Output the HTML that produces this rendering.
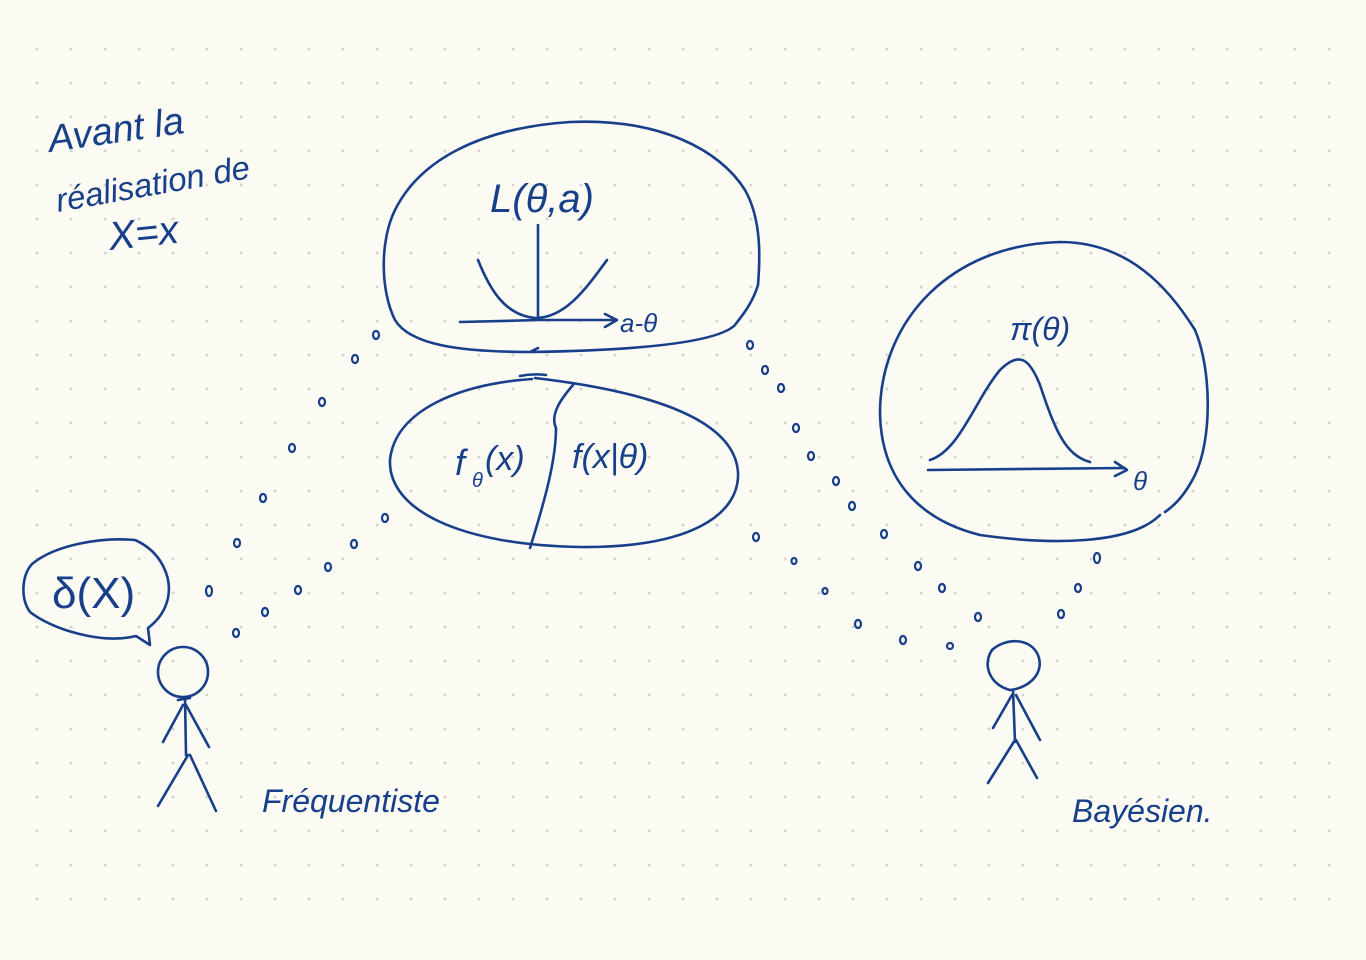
<!DOCTYPE html>
<html><head><meta charset="utf-8"><style>
html,body{margin:0;padding:0;background:#fbfaf3;}
svg{display:block}
text{font-family:"Liberation Sans",sans-serif;fill:#173f8a}
</style></head><body>
<svg width="1366" height="960" viewBox="0 0 1366 960" xmlns="http://www.w3.org/2000/svg">
<defs>
<pattern id="g" x="20" y="32" width="34" height="34" patternUnits="userSpaceOnUse">
<circle cx="17" cy="17" r="1.5" fill="#d3d3cf"/>
</pattern>
</defs>
<rect width="1366" height="960" fill="#fbfaf3"/>
<rect x="20" y="32" width="1326" height="884" fill="url(#g)"/>
<g fill="none" stroke="#173f8a" stroke-width="2.6" stroke-linecap="round" stroke-linejoin="round">
<path d="M532 352 C460 352 410 345 395 320 C380 290 380 240 395 210 C420 160 480 128 570 122 C660 118 720 150 745 190 C762 220 760 260 758 285 C752 305 740 318 735 325 C720 340 660 350 530 352 L538 348"/>
<path d="M460 322 L540 320 L615 320 M605 314 L617 320 L605 327"/>
<path d="M538 225 L538 318"/>
<path d="M478 260 C490 290 505 315 535 318 C565 318 585 290 607 260"/>
<path d="M532 379 C460 384 395 410 390 460 C388 510 460 545 580 547 C690 548 740 515 738 472 C735 430 680 395 535 378"/>
<path d="M573 385 C560 400 550 415 556 428 C556 460 545 500 530 548"/>
<path d="M520 376 C530 374 538 374 546 375"/>
<path d="M1160 515 C1130 545 1050 545 980 535 C920 520 880 480 880 410 C882 320 950 245 1060 242 C1130 242 1170 290 1195 330 C1212 370 1212 440 1195 475 C1185 495 1175 505 1165 512"/>
<path d="M928 470 L1125 468 M1115 462 L1127 470 L1115 476"/>
<path d="M930 460 C960 450 975 400 1000 370 C1020 350 1030 360 1040 385 C1055 430 1065 455 1090 462"/>
<path d="M136 636 C100 645 50 628 30 612 C20 598 22 575 32 564 C55 545 100 537 135 540 C162 552 172 578 168 598 C165 612 156 622 148 628 L150 645 Z"/>
<circle cx="183" cy="672" r="25"/>
<path d="M185 697 L186 755 M183 705 L163 742 M186 705 L209 747 M188 755 L158 806 M190 755 L216 811 M178 700 L190 698"/>
<path d="M1010 690 C990 685 982 665 992 650 C1005 638 1030 637 1038 655 C1045 672 1030 688 1010 690"/>
<path d="M1013 690 L1015 742 M1012 695 L993 728 M1016 695 L1040 740 M1015 740 L988 783 M1016 740 L1037 778"/>
<g stroke-width="2.2">
<ellipse cx="376" cy="335" rx="3" ry="4"/><ellipse cx="355" cy="359" rx="3" ry="4"/><ellipse cx="322" cy="402" rx="3" ry="4"/><ellipse cx="292" cy="448" rx="3" ry="4"/><ellipse cx="263" cy="498" rx="3" ry="4"/><ellipse cx="237" cy="543" rx="3" ry="4"/><ellipse cx="209" cy="591" rx="3" ry="5"/>
<ellipse cx="385" cy="518" rx="3" ry="4"/><ellipse cx="354" cy="544" rx="3" ry="4"/><ellipse cx="328" cy="567" rx="3" ry="4"/><ellipse cx="298" cy="590" rx="3" ry="4"/><ellipse cx="265" cy="612" rx="3" ry="4"/><ellipse cx="236" cy="633" rx="3" ry="4"/>
<ellipse cx="750" cy="345" rx="3" ry="4"/><ellipse cx="765" cy="370" rx="3" ry="4"/><ellipse cx="781" cy="388" rx="3" ry="4"/><ellipse cx="796" cy="428" rx="3" ry="4"/><ellipse cx="811" cy="456" rx="3" ry="4"/><ellipse cx="836" cy="481" rx="3" ry="4"/><ellipse cx="852" cy="506" rx="3" ry="4"/><ellipse cx="884" cy="534" rx="3" ry="4"/><ellipse cx="918" cy="566" rx="3" ry="4"/><ellipse cx="942" cy="588" rx="3" ry="4"/><ellipse cx="978" cy="617" rx="3" ry="4"/>
<ellipse cx="756" cy="537" rx="3" ry="4"/><ellipse cx="794" cy="561" rx="2.5" ry="3"/><ellipse cx="825" cy="591" rx="2.5" ry="3"/><ellipse cx="858" cy="624" rx="3" ry="4"/><ellipse cx="903" cy="640" rx="3" ry="4"/><ellipse cx="950" cy="646" rx="3" ry="3"/>
<ellipse cx="1097" cy="558" rx="3" ry="5"/><ellipse cx="1078" cy="588" rx="3" ry="4"/><ellipse cx="1061" cy="614" rx="3" ry="4"/>
</g>
</g>
<g font-style="italic">
<text x="50" y="152" font-size="38" transform="rotate(-8 50 152)">Avant la</text>
<text x="58" y="212" font-size="33" transform="rotate(-10 58 212)">réalisation de</text>
<text x="110" y="250" font-size="40" transform="rotate(-6 110 250)">X=x</text>
<text x="490" y="212" font-size="40">L(θ,a)</text>
<text x="620" y="332" font-size="26">a-θ</text>
<text x="455" y="475" font-size="36">f</text><text x="472" y="487" font-size="20">θ</text><text x="485" y="470" font-size="34">(x)</text>
<text x="572" y="468" font-size="34">f(x|θ)</text>
<text x="1010" y="340" font-size="32">π(θ)</text>
<text x="1133" y="490" font-size="26">θ</text>
<text x="262" y="812" font-size="32">Fréquentiste</text>
<text x="1072" y="822" font-size="32">Bayésien.</text>
</g>
<text x="52" y="608" font-size="44">δ(X)</text>
</svg>
</body></html>
